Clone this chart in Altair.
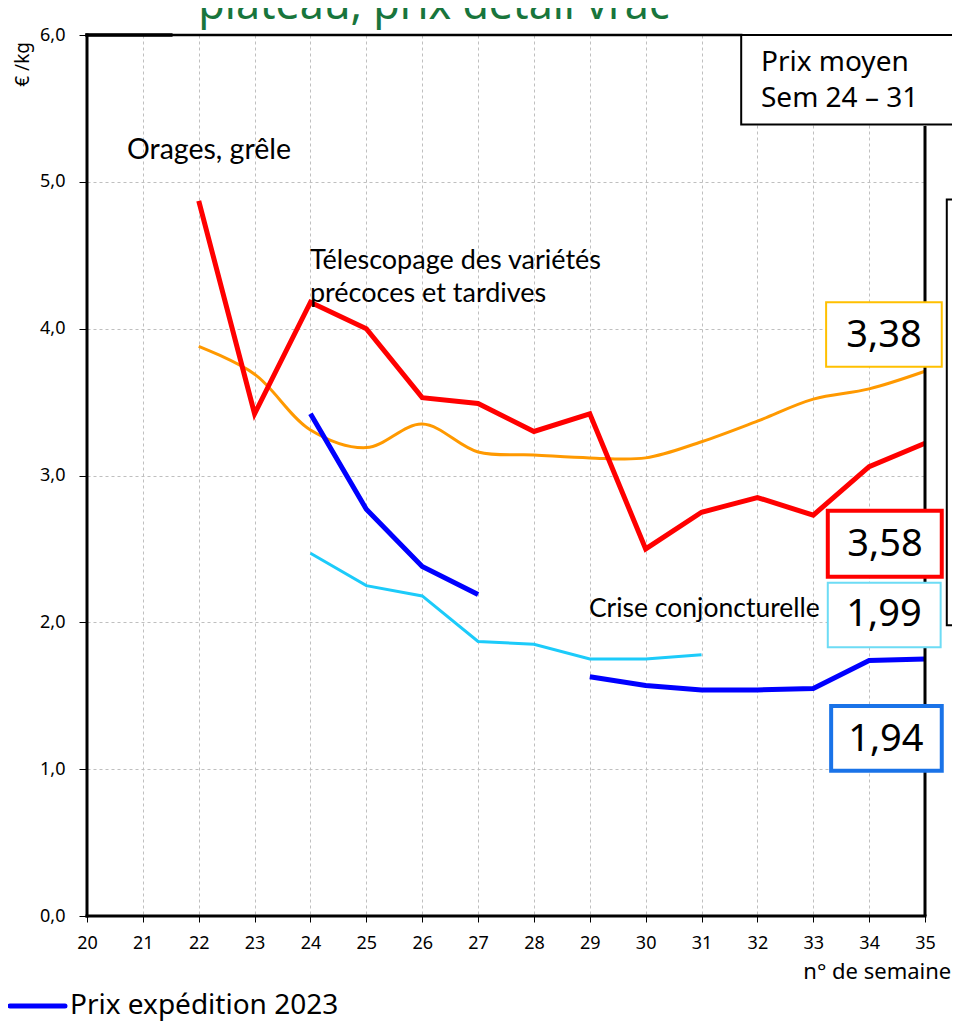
import altair as alt
import pandas as pd

# ---------------- data ----------------
red_weeks = [22, 23, 24, 25, 26, 27, 28, 29, 30, 31, 32, 33, 34, 35]
red_vals = [4.87, 3.42, 4.18, 4.00, 3.53, 3.49, 3.30, 3.42, 2.50, 2.75, 2.85, 2.73, 3.06, 3.22]

orange_weeks = [22, 23, 24, 25, 26, 27, 28, 29, 30, 31, 32, 33, 34, 35]
orange_vals = [3.88, 3.69, 3.31, 3.19, 3.35, 3.16, 3.14, 3.12, 3.12, 3.23, 3.37, 3.52, 3.59, 3.71]

blue_weeks_a = [24, 25, 26, 27]
blue_vals_a = [3.42, 2.77, 2.38, 2.19]
blue_weeks_b = [29, 30, 31, 32, 33, 34, 35]
blue_vals_b = [1.63, 1.57, 1.54, 1.54, 1.55, 1.74, 1.75]

cyan_weeks = [24, 25, 26, 27, 28, 29, 30, 31]
cyan_vals = [2.47, 2.25, 2.18, 1.87, 1.85, 1.75, 1.75, 1.78]

x_ticks = list(range(20, 36))
y_ticks = [0, 1, 2, 3, 4, 5, 6]

avg_labels = ["3,38", "3,58", "1,99", "1,94"]

FONT = "Noto Sans"
ANN_FONT = "Lato"

xs = alt.Scale(domain=[20, 35], nice=False, zero=False)
ys = alt.Scale(domain=[0, 6], nice=False)

X = alt.X("x:Q", scale=xs,
          axis=alt.Axis(values=x_ticks, title=None, grid=True, domain=False,
                        tickSize=6, tickColor="black", labelPadding=12,
                        labelFontSize=18, labelFont=FONT, labelColor="black",
                        gridColor="#BFBFBF", gridDash=[3, 3], labelFlush=False))
Y = alt.Y("y:Q", scale=ys,
          axis=alt.Axis(values=y_ticks, title=None, grid=True, domain=False,
                        tickSize=8, tickColor="black", labelPadding=14,
                        labelFontSize=18, labelFont=FONT, labelColor="black",
                        gridColor="#BFBFBF", gridDash=[3, 3],
                        labelExpr="replace(format(datum.value, '.1f'), '.', ',')"))

def line_df(weeks, vals, seg="a"):
    return pd.DataFrame({"x": weeks, "y": vals, "seg": seg})

orange = alt.Chart(line_df(orange_weeks, orange_vals)).mark_line(
    color="#FF9900", strokeWidth=3, interpolate="catmull-rom").encode(x=X, y=Y)
red = alt.Chart(line_df(red_weeks, red_vals)).mark_line(
    color="#FF0000", strokeWidth=5).encode(x=X, y=Y)
cyan = alt.Chart(line_df(cyan_weeks, cyan_vals)).mark_line(
    color="#1CCBFA", strokeWidth=3).encode(x=X, y=Y)
blue_df = pd.concat([line_df(blue_weeks_a, blue_vals_a, "a"),
                     line_df(blue_weeks_b, blue_vals_b, "b")])
blue = alt.Chart(blue_df).mark_line(
    color="#0000FF", strokeWidth=5).encode(x=X, y=Y, detail="seg:N")

# --------- plot frame ----------
def rule(x1, x2, y1, y2, width, color="black", cap="square"):
    d = pd.DataFrame({"x": [x1], "x2": [x2], "y": [y1], "y2": [y2]})
    return alt.Chart(d).mark_rule(color=color, strokeWidth=width, strokeCap=cap).encode(
        x=alt.X("x:Q", scale=xs), x2="x2:Q", y=alt.Y("y:Q", scale=ys), y2="y2:Q")

frame = [
    rule(20, 20, 0, 6, 3),
    rule(20, 35, 0, 0, 3),
    rule(35, 35, 0, 5.38, 3, cap="butt"),
    rule(20, 31.71, 6, 6, 2.5),
    rule(20, 21.5, 6, 6, 3.5),
]

# --------- annotation boxes (data coordinates) ----------
def box(x1, x2, y1, y2, color, width):
    d = pd.DataFrame({"x": [x1], "x2": [x2], "y": [y1], "y2": [y2]})
    return alt.Chart(d).mark_rect(fill="white", stroke=color, strokeWidth=width).encode(
        x=alt.X("x:Q", scale=xs), x2="x2:Q", y=alt.Y("y:Q", scale=ys), y2="y2:Q")

boxes = [
    box(33.23, 35.30, 3.74, 4.18, "#FFC000", 2),
    box(33.26, 35.30, 2.31, 2.76, "#FF0000", 4),
    box(33.26, 35.28, 1.83, 2.27, "#6DDCF5", 2),
    box(33.32, 35.30, 0.99, 1.43, "#1A73E8", 4),
    box(31.71, 35.55, 5.39, 6.0, "black", 2),
    box(35.39, 36.2, 1.98, 4.88, "black", 2),
]

def text(x, y, t, size, align="left", font=FONT, color="black", angle=0, baseline="middle"):
    d = pd.DataFrame({"x": [x], "y": [y], "t": [t]})
    return alt.Chart(d).mark_text(align=align, baseline=baseline, fontSize=size, font=font,
                                  color=color, angle=angle).encode(
        x=alt.X("x:Q", scale=xs), y=alt.Y("y:Q", scale=ys), text="t:N")

texts = [
    text(20.716, 5.217, "Orages, grêle", 28.5, font=ANN_FONT),
    text(23.99, 4.461, "Télescopage des variétés", 27, font=ANN_FONT),
    text(23.99, 4.236, "précoces et tardives", 27, font=ANN_FONT),
    text(28.985, 2.091, "Crise conjoncturelle", 26.5, font=ANN_FONT),
    text(34.265, 3.950, avg_labels[0], 38, align="center"),
    text(34.283, 2.527, avg_labels[1], 38, align="center"),
    text(34.265, 2.050, avg_labels[2], 38, align="center"),
    text(34.30, 1.199, avg_labels[3], 38, align="center"),
    text(32.064, 5.810, "Prix moyen", 28),
    text(32.064, 5.565, "Sem 24 – 31", 28),
    text(35.47, -0.381, "n° de semaine", 22, align="right"),
    text(19.696, -0.613, "Prix expédition 2023", 28),
    text(26.211, 6.109, "plateau, prix détail vrac", 43, align="center",
         color="#18753C", baseline="alphabetic"),
    text(18.86, 5.80, "€ /kg", 19, align="center", angle=270),
]

legend_line = alt.Chart(pd.DataFrame({"x": [18.622], "x2": [19.606], "y": [-0.613]})).mark_rule(
    color="#0000FF", strokeWidth=5, strokeCap="round").encode(
    x=alt.X("x:Q", scale=xs), x2="x2:Q", y=alt.Y("y:Q", scale=ys))

chart = alt.layer(orange, red, cyan, blue, *frame, *boxes, legend_line, *texts).properties(
    width=838, height=881,
    autosize=alt.AutoSizeParams(type="none"),
    padding={"left": 79, "top": 27, "right": 27, "bottom": 106},
).configure_view(stroke=None).configure(background="white")

chart.save("out.html", embed_options={"renderer": "svg", "actions": False})
